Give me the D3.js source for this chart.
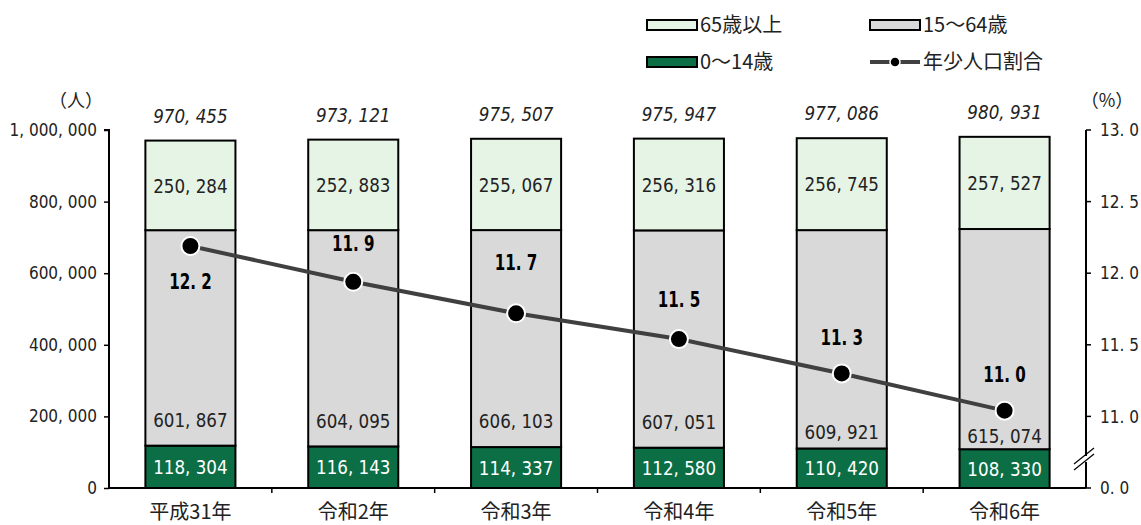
<!DOCTYPE html>
<html><head><meta charset="utf-8">
<script src="https://cdn.jsdelivr.net/npm/d3@7/dist/d3.min.js"></script>
<style>
body{margin:0;background:#fff;}
text{font-family:"Noto Sans CJK JP","Noto Sans",sans-serif;}
.num{font-family:"DejaVu Sans Condensed","DejaVu Sans","Noto Sans",sans-serif;}
</style></head>
<body><svg id="c" width="1141" height="525"></svg>
<script>
const categories = ["平成31年","令和2年","令和3年","令和4年","令和5年","令和6年"];
const age0_14 = [118304,116143,114337,112580,110420,108330];
const age15_64 = [601867,604095,606103,607051,609921,615074];
const age65 = [250284,252883,255067,256316,256745,257527];
const totals = [970455,973121,975507,975947,977086,980931];
const youthRatio = [12.19,11.94,11.72,11.54,11.30,11.04];
const leftTicks = [0,200000,400000,600000,800000,1000000];
const rightTicks = ["0.0","11.0","11.5","12.0","12.5","13.0"];

const svg = d3.select("#c");
const L = 109, R = 1086, T = 130, B = 488;
const x = d3.scaleBand().domain(categories).range([L,R]).paddingInner(0.447).paddingOuter(0.2235);
const y = d3.scaleLinear().domain([0,1000000]).range([B,T]);
const yR = d3.scaleLinear().domain([11,13]).range([y(200000),T]);
const fmt = v => d3.format(",")(v).replace(/,/g,", ");
const cols = {a65:"#e6f4e6", a15:"#d9d9d9", a0:"#0b6e45"};

// scaled numeric label helper
function numLabel(parent, px, py, str, o){
  return parent.append("text").attr("class","num")
    .attr("transform",`translate(${px},${py}) scale(${o.sx||1},1)`)
    .attr("dy","0.36em").attr("text-anchor",o.anchor||"middle")
    .attr("font-size",o.size).attr("font-weight",o.weight||null).attr("font-style",o.style||null)
    .attr("fill",o.fill||"#222").text(str);
}

// bars
const g = svg.append("g");
categories.forEach((c,i)=>{
  const x0 = x(c), w = x.bandwidth();
  const segs = [[0,age0_14[i],cols.a0],[age0_14[i],age0_14[i]+age15_64[i],cols.a15],[age0_14[i]+age15_64[i],totals[i],cols.a65]];
  segs.forEach(s=>{
    g.append("rect").attr("x",x0).attr("y",y(s[1])).attr("width",w).attr("height",y(s[0])-y(s[1]))
      .attr("fill",s[2]).attr("stroke","#000").attr("stroke-width",2);
  });
});

// left axis
const axL = d3.axisLeft(y).tickValues(leftTicks).tickSize(5).tickPadding(7).tickFormat(fmt);
const gl = svg.append("g").attr("transform",`translate(${L},0)`).call(axL);
gl.select(".domain").attr("stroke","#000").attr("stroke-width",2).attr("d",`M-5,${T}H0V${B}`);
gl.selectAll(".tick line").attr("stroke","#000").attr("stroke-width",1.5);
gl.selectAll(".tick text").attr("font-size",17).attr("fill","#222").attr("class","num").attr("font-family",null);

// bottom axis
const gb = svg.append("g");
gb.append("line").attr("x1",L).attr("x2",R).attr("y1",B).attr("y2",B).attr("stroke","#000").attr("stroke-width",2);
for(let k=1;k<categories.length;k++){
  const bx = L + (R-L)*k/categories.length;
  gb.append("line").attr("x1",bx).attr("x2",bx).attr("y1",B).attr("y2",B+5).attr("stroke","#000").attr("stroke-width",1.5);
}
categories.forEach(c=>{
  gb.append("text").attr("x",x(c)+x.bandwidth()/2).attr("y",519).attr("text-anchor","middle")
    .attr("font-size",20).attr("fill","#222").text(c);
});

// right axis (broken)
const gr = svg.append("g").attr("transform",`translate(${R},0)`);
gr.append("line").attr("x1",0).attr("x2",0).attr("y1",T).attr("y2",B).attr("stroke","#000").attr("stroke-width",2);
const rPos = v => v===0 ? B : yR(v);
rightTicks.forEach(t=>{
  const yy = rPos(+t);
  gr.append("line").attr("x1",0).attr("x2",5).attr("y1",yy).attr("y2",yy).attr("stroke","#000").attr("stroke-width",1.5);
  numLabel(gr, 14, yy, t.replace(".",". "), {size:17, anchor:"start"});
});
// break marks
const by = 461;
gr.append("rect").attr("x",-12).attr("y",by-5).attr("width",24).attr("height",6).attr("fill","#fff");
[-3,3].forEach(o=>{
  gr.append("line").attr("x1",-12).attr("y1",by+o+6).attr("x2",8).attr("y2",by+o-10).attr("stroke","#000").attr("stroke-width",1.3);
});

// unit labels
svg.append("text").attr("x",76).attr("y",107).attr("text-anchor","middle").attr("font-size",18).attr("fill","#222").text("（人）");
svg.append("text").attr("x",1107).attr("y",107).attr("text-anchor","middle").attr("font-size",18).attr("fill","#222").text("（%）");

// segment labels
const midOffset15 = [26,26,26,26,17,13];
categories.forEach((c,i)=>{
  const cx = x(c)+x.bandwidth()/2;
  numLabel(svg, cx, (y(age0_14[i])+y(0))/2, fmt(age0_14[i]), {size:20, sx:0.93, fill:"#fff"});
  numLabel(svg, cx, y(age0_14[i])-midOffset15[i], fmt(age15_64[i]), {size:20, sx:0.93});
  const top15 = y(age0_14[i]+age15_64[i]);
  numLabel(svg, cx, (top15+y(totals[i]))/2, fmt(age65[i]), {size:20, sx:0.93});
  numLabel(svg, cx, y(totals[i])-25, fmt(totals[i]), {size:20, sx:0.93, style:"italic"});
});

// line
const line = d3.line().x((d,i)=>x(categories[i])+x.bandwidth()/2).y(d=>yR(d));
svg.append("path").datum(youthRatio).attr("d",line).attr("fill","none").attr("stroke","#404040").attr("stroke-width",4);
const lblOff = [35,-38,-51,-40,-36,-36];
youthRatio.forEach((v,i)=>{
  const cx = x(categories[i])+x.bandwidth()/2, cy = yR(v);
  svg.append("circle").attr("cx",cx).attr("cy",cy).attr("r",9).attr("fill","#000").attr("stroke","#fff").attr("stroke-width",2);
  numLabel(svg, cx, cy+lblOff[i], v.toFixed(1).replace(".",". "), {size:21, sx:0.8, weight:"bold", fill:"#000"});
});

// legend
const lg = svg.append("g");
const legItems = [
  {t:"65歳以上",x:647,y:25,c:cols.a65,type:"rect"},
  {t:"15〜64歳",x:870,y:25,c:cols.a15,type:"rect"},
  {t:"0〜14歳",x:647,y:62,c:cols.a0,type:"rect"},
  {t:"年少人口割合",x:870,y:62,type:"line"}
];
legItems.forEach(d=>{
  if(d.type==="rect"){
    lg.append("rect").attr("x",d.x).attr("y",d.y-5).attr("width",50).attr("height",10).attr("fill",d.c).attr("stroke","#000").attr("stroke-width",2);
  } else {
    lg.append("line").attr("x1",d.x).attr("x2",d.x+50).attr("y1",d.y).attr("y2",d.y).attr("stroke","#404040").attr("stroke-width",4);
    lg.append("circle").attr("cx",d.x+25).attr("cy",d.y).attr("r",5).attr("fill","#000").attr("stroke","#fff").attr("stroke-width",1.5);
  }
  lg.append("text").attr("x",d.x+53).attr("y",d.y).attr("dy","0.36em").attr("font-size",20).attr("fill","#222").text(d.t);
});
</script></body></html>
